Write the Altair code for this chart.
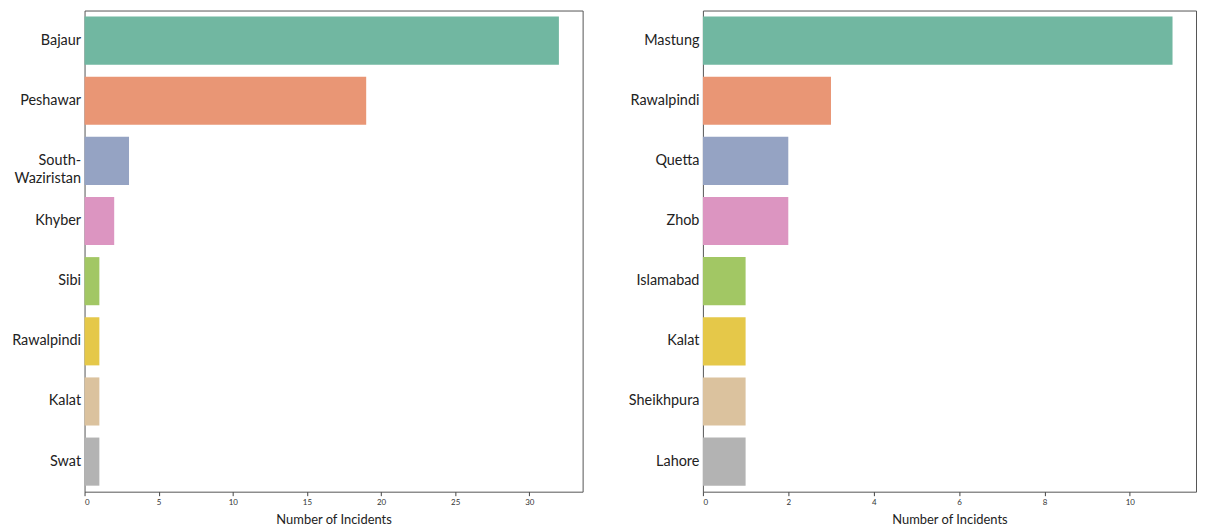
import altair as alt
import pandas as pd

left_cats = ["Bajaur", "Peshawar", "South-Waziristan", "Khyber", "Sibi", "Rawalpindi", "Kalat", "Swat"]
left_vals = [32, 19, 3, 2, 1, 1, 1, 1]
right_cats = ["Mastung", "Rawalpindi", "Quetta", "Zhob", "Islamabad", "Kalat", "Sheikhpura", "Lahore"]
right_vals = [11, 3, 2, 2, 1, 1, 1, 1]
palette = ["#71b7a1", "#e99675", "#95a3c3", "#dc95c1", "#a2c764", "#e5c849", "#dbc29e", "#b3b3b3"]

FONT = "Lato"

def panel(cats, vals, xmax, ticks, w):
    df = pd.DataFrame({"district": cats, "count": vals})
    return alt.Chart(df).mark_bar(opacity=1).encode(
        y=alt.Y("district:N", sort=cats, title=None,
                scale=alt.Scale(paddingInner=0.2, paddingOuter=0.1),
                axis=alt.Axis(ticks=False, domain=False, labelFontSize=14.5, labelColor="#222",
                              labelFont=FONT, labelPadding=4, labelLimit=200,
                              labelExpr="datum.label == 'South-Waziristan' ? ['South-', 'Waziristan'] : datum.label",
                              labelLineHeight=18)),
        x=alt.X("count:Q", title="Number of Incidents",
                scale=alt.Scale(domain=[0, xmax], nice=False, zero=True),
                axis=alt.Axis(values=ticks, grid=False, labelFontSize=8, labelColor="#333",
                              labelFont=FONT, tickSize=4, tickColor="#444", domain=False,
                              titleFont=FONT, titleFontSize=13, titleFontWeight="normal",
                              titleColor="#222", titlePadding=7, labelPadding=3)),
        color=alt.Color("district:N", sort=cats, scale=alt.Scale(domain=cats, range=palette), legend=None),
    ).properties(width=w, height=484)

left = panel(left_cats, left_vals, 33.6, [0, 5, 10, 15, 20, 25, 30], 501)
right = panel(right_cats, right_vals, 11.55, [0, 2, 4, 6, 8, 10], 496)

chart = alt.hconcat(left, right, spacing=44).resolve_scale(
    color="independent", y="independent"
).properties(
    padding={"left": 3, "top": 0, "right": 0, "bottom": 0}
).configure_view(stroke="#555", strokeWidth=1)

chart.save("out.html", embed_options={"renderer": "svg", "actions": False})
